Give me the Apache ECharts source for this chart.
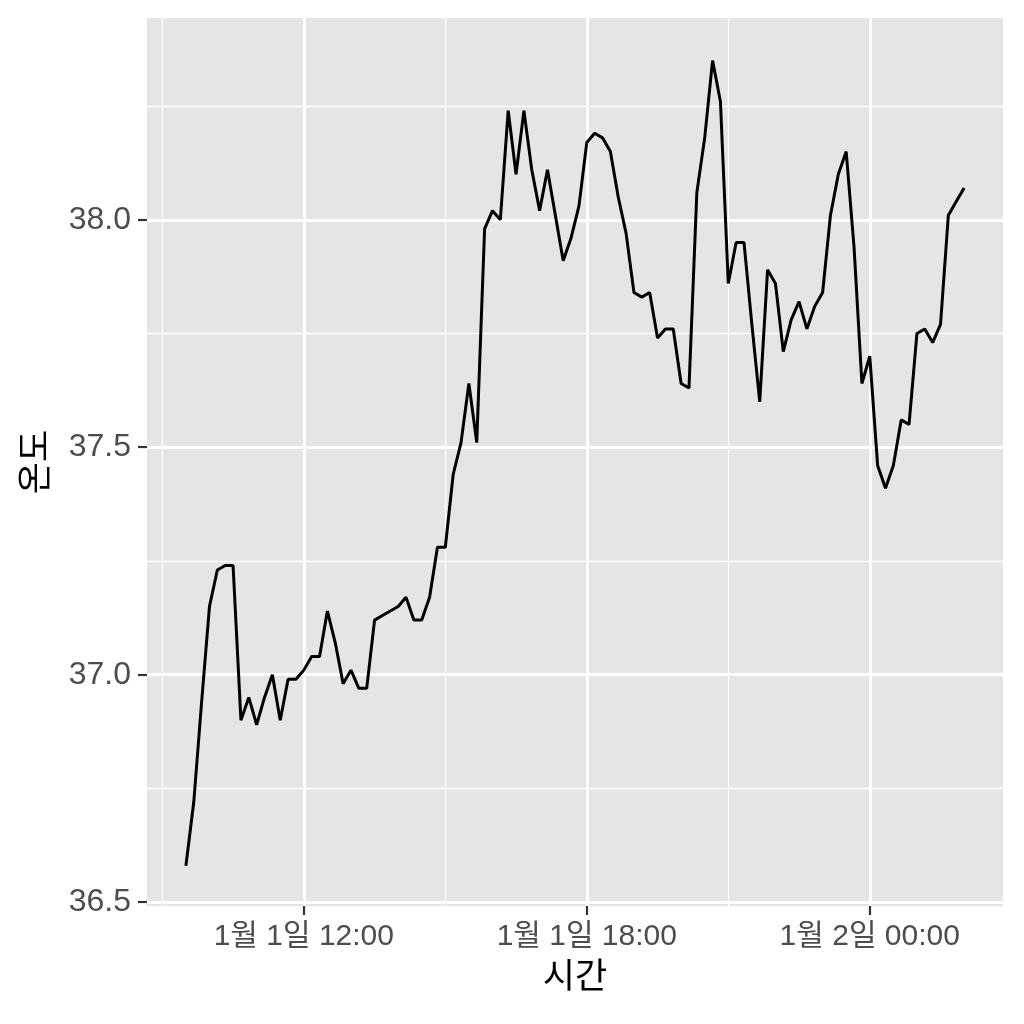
<!DOCTYPE html>
<html>
<head>
<meta charset="utf-8">
<script src="https://cdn.jsdelivr.net/npm/echarts@6/dist/echarts.min.js"></script>
<style>
  html, body { margin: 0; padding: 0; background: #fff; }
  #container { width: 1024px; height: 1024px; }
</style>
</head>
<body>
<div id="container"></div>
<script>
// 측정 시각 (10분 간격)
var times = [
  '01-01 09:30','01-01 09:40','01-01 09:50','01-01 10:00','01-01 10:10','01-01 10:20',
  '01-01 10:30','01-01 10:40','01-01 10:50','01-01 11:00','01-01 11:10','01-01 11:20',
  '01-01 11:30','01-01 11:40','01-01 11:50','01-01 12:00','01-01 12:10','01-01 12:20',
  '01-01 12:30','01-01 12:40','01-01 12:50','01-01 13:00','01-01 13:10','01-01 13:20',
  '01-01 13:30','01-01 13:40','01-01 13:50','01-01 14:00','01-01 14:10','01-01 14:20',
  '01-01 14:30','01-01 14:40','01-01 14:50','01-01 15:00','01-01 15:10','01-01 15:20',
  '01-01 15:30','01-01 15:40','01-01 15:50','01-01 16:00','01-01 16:10','01-01 16:20',
  '01-01 16:30','01-01 16:40','01-01 16:50','01-01 17:00','01-01 17:10','01-01 17:20',
  '01-01 17:30','01-01 17:40','01-01 17:50','01-01 18:00','01-01 18:10','01-01 18:20',
  '01-01 18:30','01-01 18:40','01-01 18:50','01-01 19:00','01-01 19:10','01-01 19:20',
  '01-01 19:30','01-01 19:40','01-01 19:50','01-01 20:00','01-01 20:10','01-01 20:20',
  '01-01 20:30','01-01 20:40','01-01 20:50','01-01 21:00','01-01 21:10','01-01 21:20',
  '01-01 21:30','01-01 21:40','01-01 21:50','01-01 22:00','01-01 22:10','01-01 22:20',
  '01-01 22:30','01-01 22:40','01-01 22:50','01-01 23:00','01-01 23:10','01-01 23:20',
  '01-01 23:30','01-01 23:40','01-01 23:50','01-02 00:00','01-02 00:10','01-02 00:20',
  '01-02 00:30','01-02 00:40','01-02 00:50','01-02 01:00','01-02 01:10','01-02 01:20',
  '01-02 01:30','01-02 01:40','01-02 01:50','01-02 02:00'
];

// 온도
var temps = [
  36.58, 36.72, 36.94, 37.15, 37.23, 37.24, 37.24, 36.90, 36.95, 36.89,
  36.95, 37.00, 36.90, 36.99, 36.99, 37.01, 37.04, 37.04, 37.14, 37.07,
  36.98, 37.01, 36.97, 36.97, 37.12, 37.13, 37.14, 37.15, 37.17, 37.12,
  37.12, 37.17, 37.28, 37.28, 37.44, 37.51, 37.64, 37.51, 37.98, 38.02,
  38.00, 38.24, 38.10, 38.24, 38.11, 38.02, 38.11, 38.01, 37.91, 37.96,
  38.03, 38.17, 38.19, 38.18, 38.15, 38.05, 37.97, 37.84, 37.83, 37.84,
  37.74, 37.76, 37.76, 37.64, 37.63, 38.06, 38.18, 38.35, 38.26, 37.86,
  37.95, 37.95, 37.77, 37.60, 37.89, 37.86, 37.71, 37.78, 37.82, 37.76,
  37.81, 37.84, 38.01, 38.10, 38.15, 37.94, 37.64, 37.70, 37.46, 37.41,
  37.46, 37.56, 37.55, 37.75, 37.76, 37.73, 37.77, 38.01, 38.04, 38.07
];

// 축 눈금
var xMajorTicks = ['01-01 12:00', '01-01 18:00', '01-02 00:00'];
var xMinorTicks = ['01-01 09:00', '01-01 15:00', '01-01 21:00'];
var xRange = ['01-01 08:40:30', '01-02 02:49:30'];
var yMajorTicks = [36.5, 37.0, 37.5, 38.0];
var yMinorTicks = [36.75, 37.25, 37.75, 38.25];
var yRange = [36.4915, 38.4435];

var YEAR = 2024;

function toTime(s) {
    var p = s.split(/[- :]/);
    return new Date(YEAR, +p[0] - 1, +p[1], +p[2], +p[3], p[4] ? +p[4] : 0).getTime();
}

function timeLabel(v) {
    var d = new Date(v);
    var hh = ('0' + d.getHours()).slice(-2);
    var mm = ('0' + d.getMinutes()).slice(-2);
    return (d.getMonth() + 1) + '월 ' + d.getDate() + '일 ' + hh + ':' + mm;
}

var FONT = "'Liberation Sans', 'Noto Sans CJK KR', sans-serif";
var container = document.getElementById('container');
var charts = echarts.init(container);

var seriesData = times.map(function (t, i) { return [toTime(t), temps[i]]; });

var option = {
    animation: false,
    backgroundColor: '#ffffff',
    textStyle: { fontFamily: FONT },
    grid: {
        left: 147, right: 21, top: 18, bottom: 118,
        show: true, backgroundColor: '#E5E5E5', borderWidth: 0
    },
    xAxis: [{
        type: 'value',
        min: toTime(xRange[0]),
        max: toTime(xRange[1]),
        name: '시간',
        nameLocation: 'middle',
        nameGap: 55,
        nameTextStyle: { fontSize: 35, color: '#000', fontFamily: FONT },
        axisLine: { show: false },
        axisTick: {
            show: true, length: 9, customValues: xMajorTicks.map(toTime),
            lineStyle: { color: '#333', width: 2.2 }
        },
        axisLabel: {
            customValues: xMajorTicks.map(toTime),
            formatter: timeLabel,
            fontSize: 30, color: '#4D4D4D', margin: 16, fontFamily: FONT,
            hideOverlap: false
        },
        splitLine: { show: true, lineStyle: { color: '#ffffff', width: 2.8 } }
    }, {
        type: 'value',
        min: toTime(xRange[0]),
        max: toTime(xRange[1]),
        position: 'bottom',
        axisLine: { show: false },
        axisTick: { show: false, customValues: xMinorTicks.map(toTime) },
        axisLabel: { show: false, customValues: xMinorTicks.map(toTime) },
        splitLine: { show: true, lineStyle: { color: '#ffffff', width: 1.3 } }
    }],
    yAxis: [{
        type: 'value',
        min: yRange[0],
        max: yRange[1],
        name: '온도',
        nameLocation: 'middle',
        nameGap: 92,
        nameTextStyle: { fontSize: 35, color: '#000', fontFamily: FONT },
        axisLine: { show: false },
        axisTick: {
            show: true, length: 9, customValues: yMajorTicks,
            lineStyle: { color: '#333', width: 2.2 }
        },
        axisLabel: {
            customValues: yMajorTicks,
            formatter: function (v) { return v.toFixed(1); },
            fontSize: 32, color: '#4D4D4D', margin: 16, fontFamily: FONT
        },
        splitLine: { show: true, lineStyle: { color: '#ffffff', width: 2.8 } }
    }, {
        type: 'value',
        min: yRange[0],
        max: yRange[1],
        position: 'left',
        axisLine: { show: false },
        axisTick: { show: false, customValues: yMinorTicks },
        axisLabel: { show: false, customValues: yMinorTicks },
        splitLine: { show: true, lineStyle: { color: '#ffffff', width: 1.3 } }
    }],
    series: [{
        type: 'line',
        xAxisIndex: 0,
        yAxisIndex: 0,
        data: seriesData,
        showSymbol: false,
        symbol: 'none',
        lineStyle: { color: '#000000', width: 3 },
        z: 5
    }]
};

charts.setOption(option, true);
</script>
</body>
</html>
